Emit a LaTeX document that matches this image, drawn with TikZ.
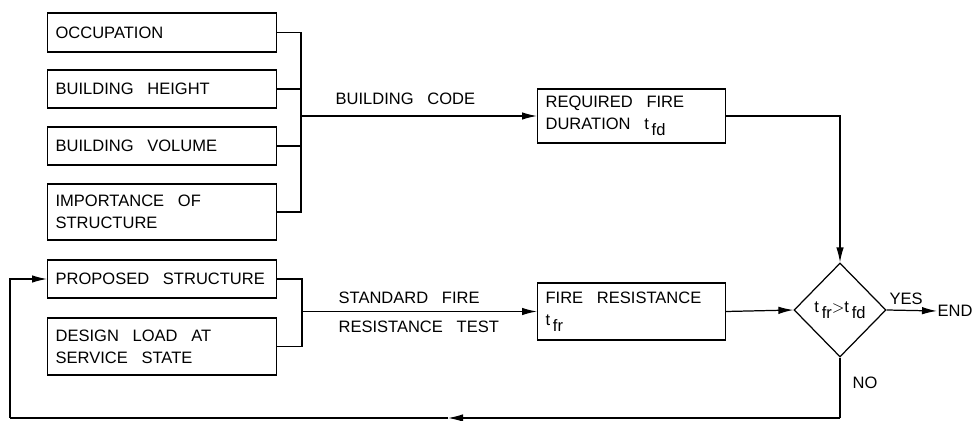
\documentclass[tikz,border=0pt]{standalone}
\usepackage{fontspec}
\setmainfont{Liberation Sans}[WordSpace=3]
\usetikzlibrary{shapes.geometric,arrows.meta}
\newcommand{\tidx}[1]{t\,\raisebox{-0.7ex}{#1}}
\begin{document}
\begin{tikzpicture}[x=0.02cm,y=-0.02cm,line width=0.7pt,>={Latex[length=3mm,width=1.5mm]}]
\tikzstyle{every node}=[font=\fontsize{9.4}{12.5}\selectfont]
\tikzstyle{box}=[draw,rectangle,anchor=west,inner xsep=0.16cm,text width=4.26cm,align=flush left]
\tikzstyle{rbox}=[box,text width=3.44cm]
\tikzstyle{lbl}=[anchor=west,inner sep=0pt]
\useasboundingbox (0,0) rectangle (974,421);
% input boxes
\node[box,minimum height=0.78cm](b1) at (47,32.5) {OCCUPATION};
\node[box,minimum height=0.76cm](b2) at (47,89) {BUILDING HEIGHT};
\node[box,minimum height=0.76cm](b3) at (47,146) {BUILDING VOLUME};
\node[box,minimum height=1.12cm](b4) at (47,212) {IMPORTANCE OF\\STRUCTURE};
\node[box,minimum height=0.76cm](b5) at (47,279) {PROPOSED STRUCTURE};
\node[box,minimum height=1.14cm](b6) at (47,346.5) {DESIGN LOAD AT\\SERVICE STATE};
% results
\node[rbox,minimum height=1.08cm](r1) at (537,116) {REQUIRED FIRE\\DURATION \tidx{fd}};
\node[rbox,minimum height=1.14cm](r2) at (537,311.5) {FIRE RESISTANCE\\\tidx{fr}};
\node[draw,diamond,minimum width=1.84cm,minimum height=1.88cm,inner sep=0pt](d) at (840,310) {\tidx{fr}$>$\tidx{fd}};
\node[lbl](end) at (937,311) {END};
% connectors
\coordinate (bus1) at (301,116);
\coordinate (bus2) at (302,311.5);
\foreach \b in {b1,b2,b3,b4} \draw (\b.east) -| (bus1);
\foreach \b in {b5,b6} \draw (\b.east) -| (bus2);
\draw[->] (bus1) -- (r1.west);
\draw[->] (bus2) -- (r2.west);
\draw[->] (r1.east) -| (d.north);
\draw[->] (r2.east) -- (d.west);
\draw[->] (d.east) -- (end.west);
\node[lbl] at (335,99) {BUILDING CODE};
\node[lbl] at (338,298) {STANDARD FIRE};
\node[lbl] at (338,327) {RESISTANCE TEST};
\node[lbl] at (889,299) {YES};
\node[lbl] at (852,383) {NO};
% loop back
\coordinate (c1) at (840,418);
\coordinate (m1) at (448,418);
\coordinate (c2) at (10,418);
\draw (d.south) -- (c1);
\draw[->] (c1) -- (m1);
\draw (m1) -- (c2);
\draw[->] (c2) |- (b5.west);
\end{tikzpicture}
\end{document}
